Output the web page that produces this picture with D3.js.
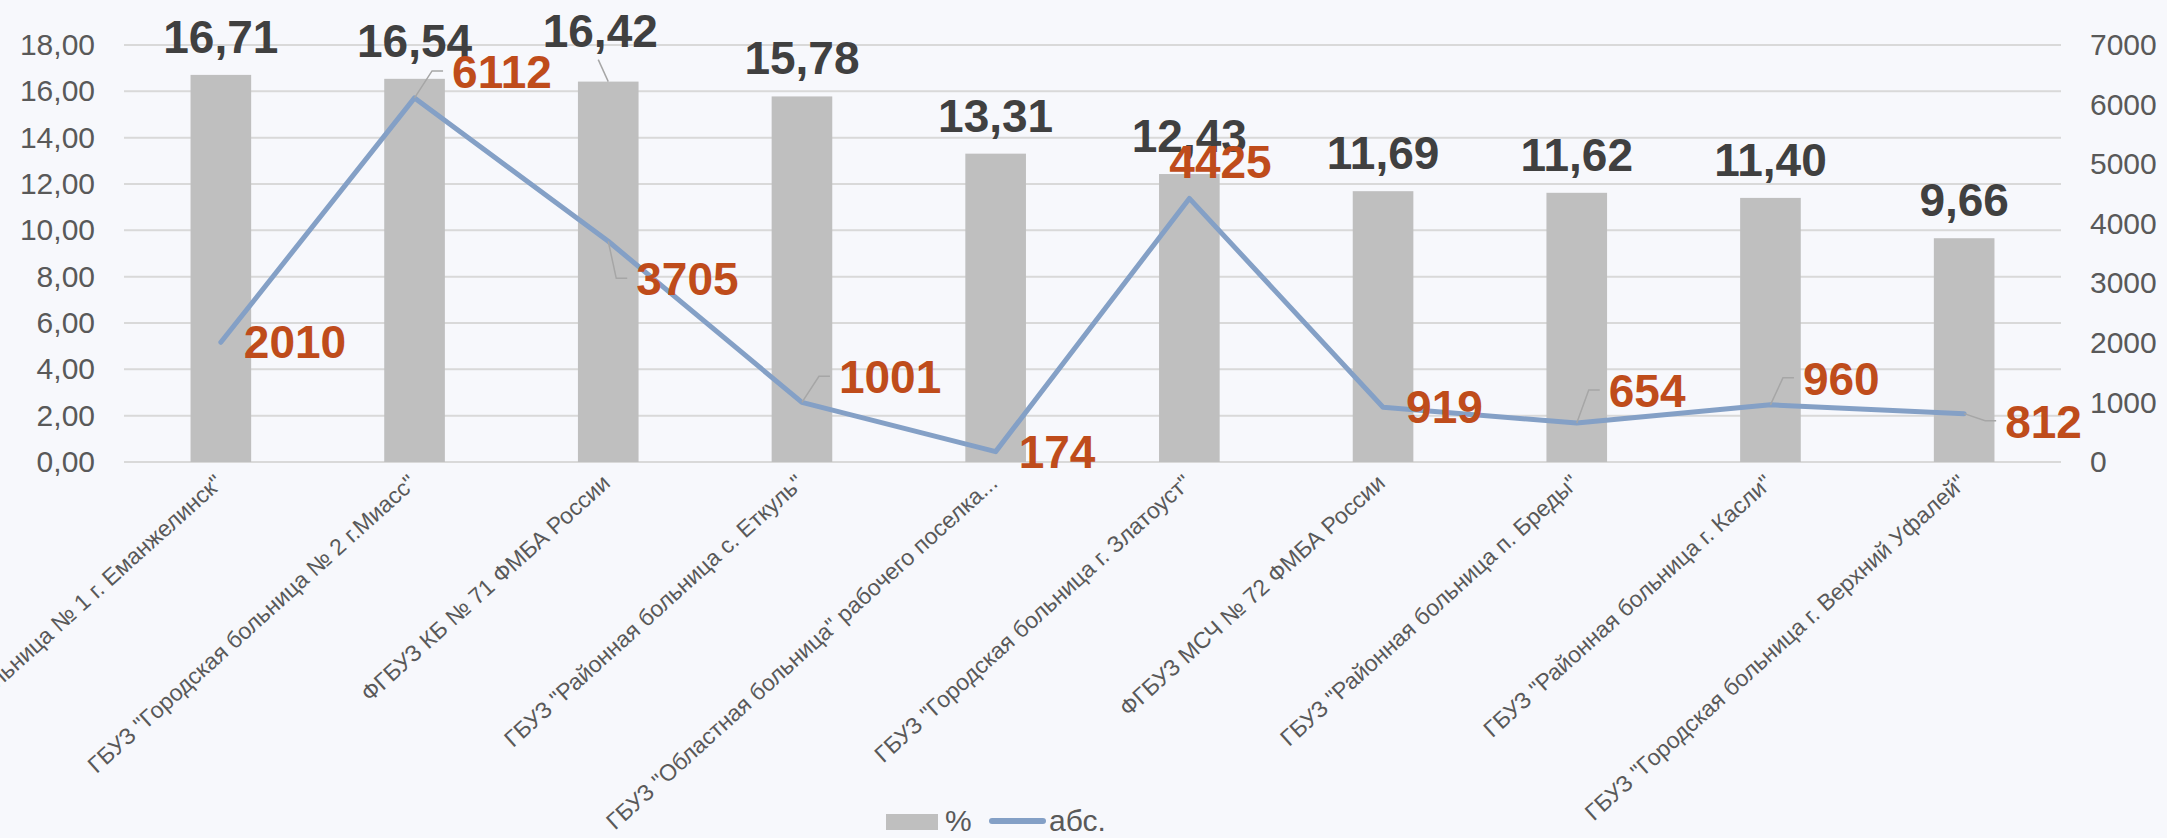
<!DOCTYPE html>
<html>
<head>
<meta charset="utf-8">
<script src="https://cdn.jsdelivr.net/npm/d3@7"></script>
<style>
  html, body { margin: 0; padding: 0; background: #f7f8fc; }
  svg { display: block; font-family: "Liberation Sans", Arial, sans-serif; }
</style>
</head>
<body>
<svg id="chart" width="2167" height="838"></svg>
<script>
// ---- data ----
const categories = [
  'ГБУЗ "Городская больница № 1 г. Еманжелинск"',
  'ГБУЗ "Городская больница № 2 г.Миасс"',
  'ФГБУЗ КБ № 71 ФМБА России',
  'ГБУЗ "Районная больница с. Еткуль"',
  'ГБУЗ "Областная больница" рабочего поселка...',
  'ГБУЗ "Городская больница г. Златоуст"',
  'ФГБУЗ МСЧ № 72 ФМБА России',
  'ГБУЗ "Районная больница п. Бреды"',
  'ГБУЗ "Районная больница г. Касли"',
  'ГБУЗ "Городская больница г. Верхний Уфалей"'
];
const percentValues = [16.71, 16.54, 16.42, 15.78, 13.31, 12.43, 11.69, 11.62, 11.40, 9.66];
const absValues = [2010, 6112, 3705, 1001, 174, 4425, 919, 654, 960, 812];
const leftTickValues = [0, 2, 4, 6, 8, 10, 12, 14, 16, 18];
const rightTickValues = [0, 1000, 2000, 3000, 4000, 5000, 6000, 7000];
const seriesNames = ["%", "абс."];

// ---- layout (label nudges, like manually moved labels) ----
const barLabelNudge = [[0,0],[0,0],[-8,-13],[0,0],[0,0],[0,0],[0,0],[0,0],[0,0],[0,0]];
const lineLabelNudge = [[0,0],[14.5,-26],[5,38],[14,-25],[0,0],[-43,-36],[0,0],[9,-32],[9.5,-26],[18,8]];
const lineLabelLeader = [false,true,true,true,false,false,false,true,true,true];

const svg = d3.select("#chart");
const W = 2167, H = 838;
const plot = { left: 124, right: 2061, top: 45, bottom: 462 };

svg.append("rect").attr("width", W).attr("height", H).attr("fill", "#f7f8fc");

const x = d3.scaleBand().domain(categories).range([plot.left, plot.right])
  .paddingInner(0.687).paddingOuter(0.3435);
const yL = d3.scaleLinear().domain([0, 18]).range([plot.bottom, plot.top]);
const yR = d3.scaleLinear().domain([0, 7000]).range([plot.bottom, plot.top]);
const cx = c => x(c) + x.bandwidth() / 2;

const fmtComma = v => d3.format(".2f")(v).replace(".", ",");

// gridlines
svg.append("g").selectAll("line").data(leftTickValues).join("line")
  .attr("x1", plot.left).attr("x2", plot.right)
  .attr("y1", d => yL(d)).attr("y2", d => yL(d))
  .attr("stroke", "#d9d9d9").attr("stroke-width", 2);

// left axis
const gL = svg.append("g").attr("transform", `translate(${plot.left},0)`)
  .call(d3.axisLeft(yL).tickValues(leftTickValues).tickFormat(fmtComma).tickSize(0).tickPadding(29));
gL.select(".domain").remove();
gL.selectAll("text").attr("font-size", 30).attr("fill", "#595959")
  .attr("font-family", "Liberation Sans, Arial, sans-serif");

// right axis
const gR = svg.append("g").attr("transform", `translate(${plot.right},0)`)
  .call(d3.axisRight(yR).tickValues(rightTickValues).tickFormat(d3.format("d")).tickSize(0).tickPadding(29));
gR.select(".domain").remove();
gR.selectAll("text").attr("font-size", 30).attr("fill", "#595959")
  .attr("font-family", "Liberation Sans, Arial, sans-serif");

// bars
svg.append("g").selectAll("rect").data(categories).join("rect")
  .attr("x", d => x(d)).attr("width", x.bandwidth())
  .attr("y", (d, i) => yL(percentValues[i]))
  .attr("height", (d, i) => yL(0) - yL(percentValues[i]))
  .attr("fill", "#bfbfbf");

// x category labels
svg.append("g").selectAll("text").data(categories).join("text")
  .attr("transform", d => `translate(${cx(d) - 2},${plot.bottom + 17}) rotate(-42)`)
  .attr("text-anchor", "end").attr("dy", "0.35em")
  .attr("font-size", 23).attr("fill", "#595959")
  .text(d => d);

// line
const line = d3.line().x((d, i) => cx(categories[i])).y(d => yR(d));
svg.append("path").datum(absValues).attr("d", line)
  .attr("fill", "none").attr("stroke", "#84a0c6").attr("stroke-width", 5)
  .attr("stroke-linejoin", "round").attr("stroke-linecap", "round");

// bar labels
const gBL = svg.append("g");
categories.forEach((c, i) => {
  const bx = cx(c), by = yL(percentValues[i]);
  const lx = bx + barLabelNudge[i][0], ly = by - 22 + barLabelNudge[i][1];
  if (barLabelNudge[i][0] !== 0 || barLabelNudge[i][1] !== 0) {
    gBL.append("line").attr("x1", lx - 2).attr("y1", ly + 13).attr("x2", bx).attr("y2", by)
      .attr("stroke", "#a6a6a6").attr("stroke-width", 1.5);
  }
  gBL.append("text").attr("x", lx).attr("y", ly).attr("text-anchor", "middle")
    .attr("font-size", 46).attr("font-weight", "bold").attr("fill", "#404040")
    .text(fmtComma(percentValues[i]));
});

// line labels
const gLL = svg.append("g");
categories.forEach((c, i) => {
  const px = cx(c), py = yR(absValues[i]);
  const L = px + 23 + lineLabelNudge[i][0];
  const B = py + 16 + lineLabelNudge[i][1];
  if (lineLabelLeader[i]) {
    gLL.append("polyline")
      .attr("points", `${px},${py} ${L - 20},${B - 17} ${L - 9},${B - 17}`)
      .attr("fill", "none").attr("stroke", "#a6a6a6").attr("stroke-width", 1.5);
  }
  gLL.append("text").attr("x", L).attr("y", B)
    .attr("font-size", 46).attr("font-weight", "bold").attr("fill", "#bf4c1b")
    .text(absValues[i]);
});

// legend
const leg = svg.append("g");
leg.append("rect").attr("x", 886).attr("y", 814).attr("width", 52).attr("height", 16).attr("fill", "#bfbfbf");
leg.append("text").attr("x", 945).attr("y", 831).attr("font-size", 30).attr("fill", "#595959").text(seriesNames[0]);
leg.append("line").attr("x1", 992).attr("x2", 1043).attr("y1", 821).attr("y2", 821)
  .attr("stroke", "#84a0c6").attr("stroke-width", 6).attr("stroke-linecap", "round");
leg.append("text").attr("x", 1049).attr("y", 831).attr("font-size", 30).attr("fill", "#595959").text(seriesNames[1]);
</script>
</body>
</html>
